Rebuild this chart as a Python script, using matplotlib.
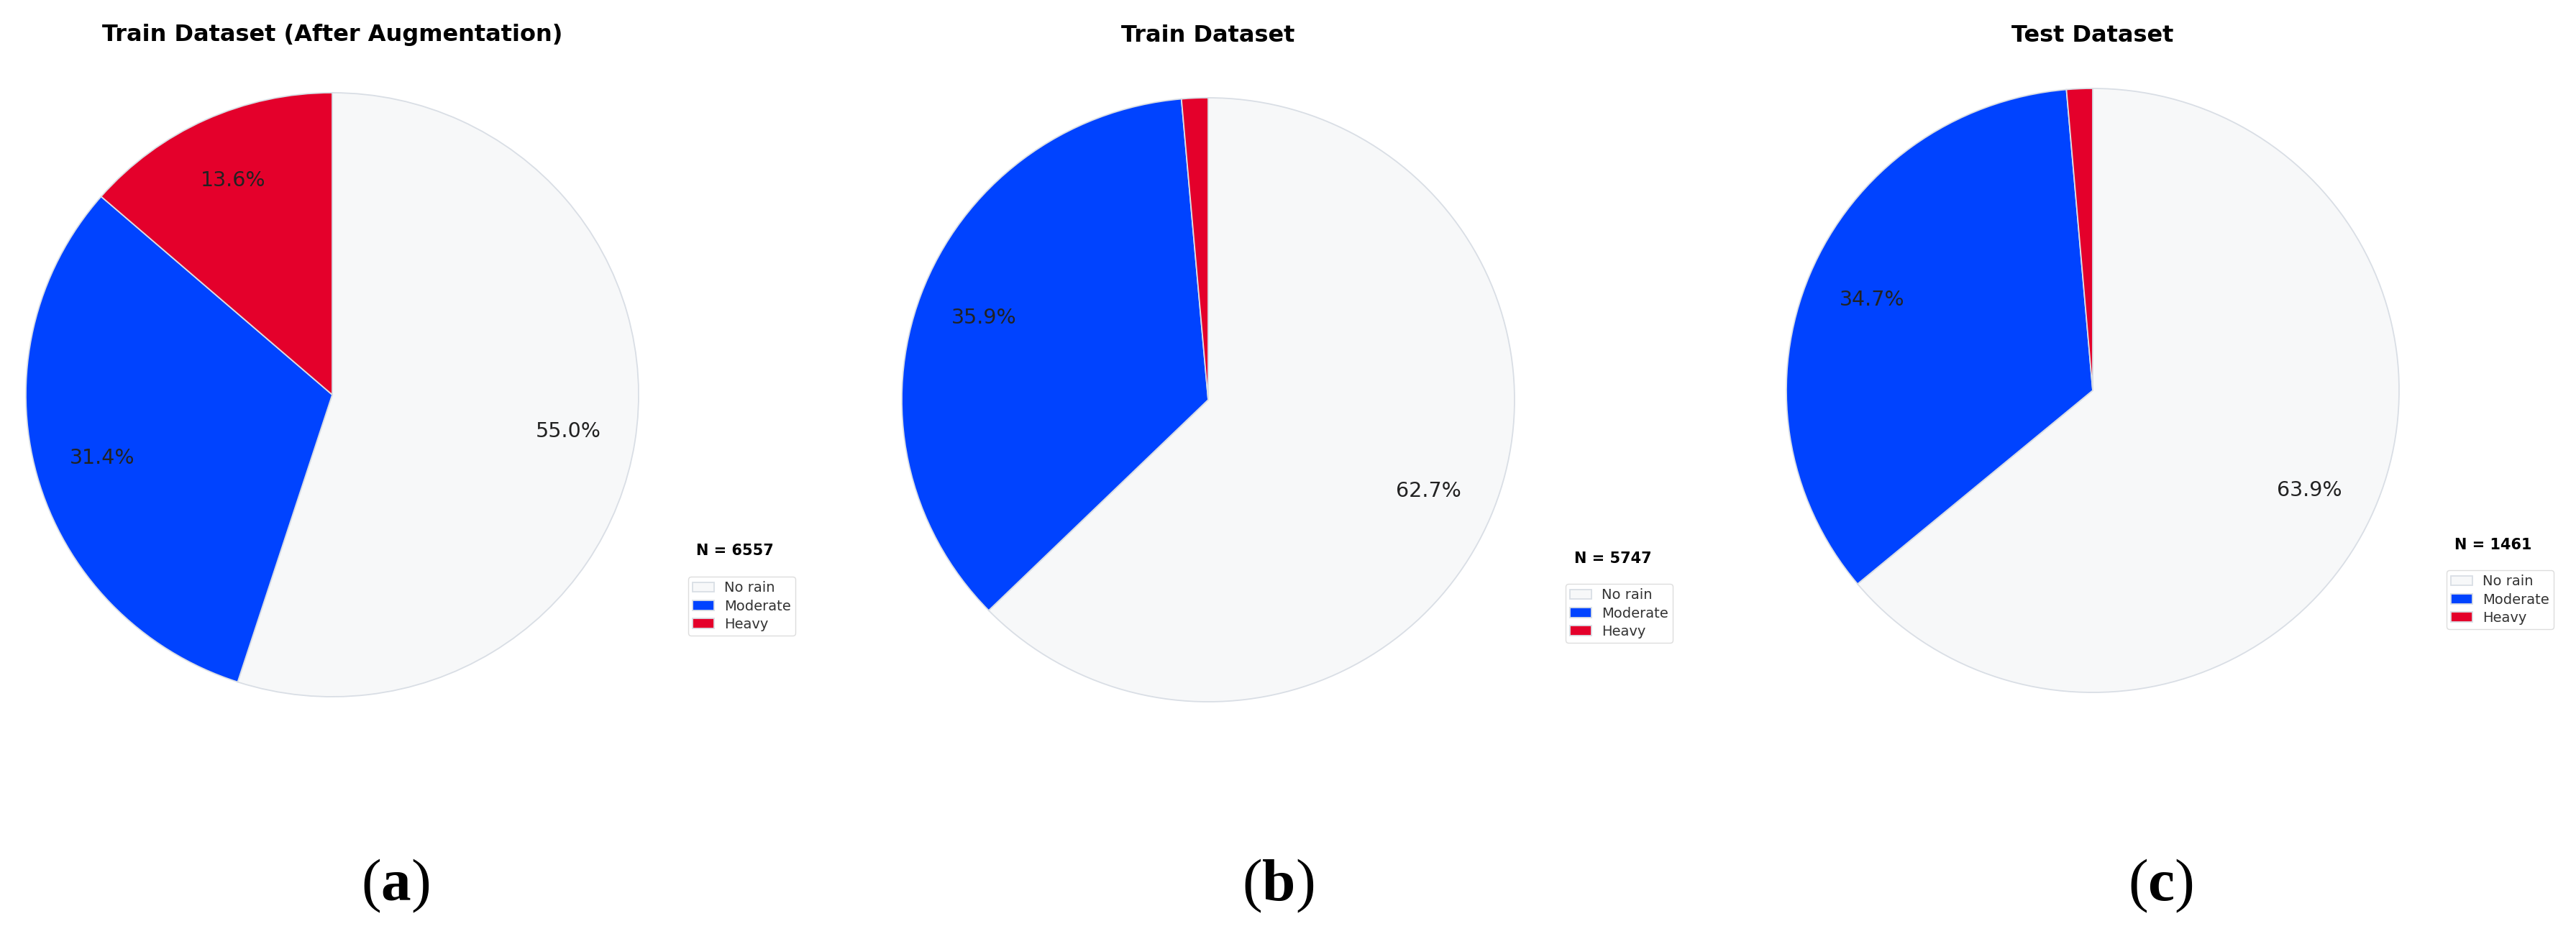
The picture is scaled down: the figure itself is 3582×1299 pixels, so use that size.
import matplotlib
matplotlib.use("Agg")
import matplotlib.pyplot as plt

plt.rcParams['font.family'] = ['DejaVu Sans']
plt.rcParams['mathtext.fontset'] = 'custom'
plt.rcParams['mathtext.rm'] = 'Liberation Serif'
plt.rcParams['mathtext.bf'] = 'Liberation Serif:bold'

# ---------------- data ----------------
categories = ["No rain", "Moderate", "Heavy"]
colors = ["#f7f8f9", "#0043ff", "#e4002b"]

titles = ["Train Dataset (After Augmentation)", "Train Dataset", "Test Dataset"]
panel_tags = ["a", "b", "c"]

counts_aug = [3606, 2059, 892]     # N = 6557
counts_train = [3604, 2063, 80]    # N = 5747
counts_test = [934, 507, 20]       # N = 1461
all_counts = [counts_aug, counts_train, counts_test]

# ---------------- layout (pixels) ----------------
W, H = 3582, 1299
DPI = 100
fig = plt.figure(figsize=(W / DPI, H / DPI), dpi=DPI)
fig.patch.set_facecolor("white")

centers = [(462, 549), (1680, 556), (2910, 543)]
RX, RY = 426, 420
legend_corner = [(957, 802), (2177, 812), (3402, 793)]
n_text_pos = [(1022, 766), (2243, 777), (3467, 758)]
tag_pos = [(550, 1232), (1777, 1232), (3004, 1232)]


def fx(x):
    return x / W


def fy(y):
    return 1 - y / H


for i in range(3):
    cx, cy = centers[i]
    ax = fig.add_axes([fx(cx - RX), fy(cy + RY), 2 * RX / W, 2 * RY / H])
    vals = all_counts[i]
    wedges, texts, autotexts = ax.pie(
        vals,
        colors=colors,
        startangle=90,
        counterclock=False,
        autopct=lambda p: f"{p:.1f}%" if p > 2 else "",
        pctdistance=0.78,
        wedgeprops=dict(edgecolor="#d9dee5", linewidth=1.3),
        textprops=dict(fontsize=20.5, color="#222222"),
    )
    ax.set_aspect("auto")
    ax.set_xlim(-1, 1)
    ax.set_ylim(-1, 1)
    ax.axis("off")

    fig.text(fx(cx), fy(49), titles[i], ha="center", va="center",
             fontsize=23, fontweight="bold", color="black")

    lx, ly = legend_corner[i]
    leg = fig.legend(
        wedges, categories,
        loc="upper left",
        bbox_to_anchor=(fx(lx), fy(ly)),
        borderaxespad=0,
        fontsize=14,
        labelspacing=0.32,
        borderpad=0.33,
        handlelength=1.5,
        handleheight=0.7,
        handletextpad=0.75,
        frameon=True,
        fancybox=True,
        framealpha=1,
        edgecolor="#dddddd",
        labelcolor="#333333",
    )

    N = sum(vals)
    nx, ny = n_text_pos[i]
    fig.text(fx(nx), fy(ny), f"N = {N}", ha="center", va="center",
             fontsize=15, fontweight="bold", color="black")

    tx, ty = tag_pos[i]
    fig.text(fx(tx), fy(ty), "(" + r"$\mathbf{" + panel_tags[i] + "}$" + ")",
             ha="center", va="center", fontsize=60,
             family="Liberation Serif", color="black")

fig.savefig("out.png", dpi=DPI, facecolor="white")
